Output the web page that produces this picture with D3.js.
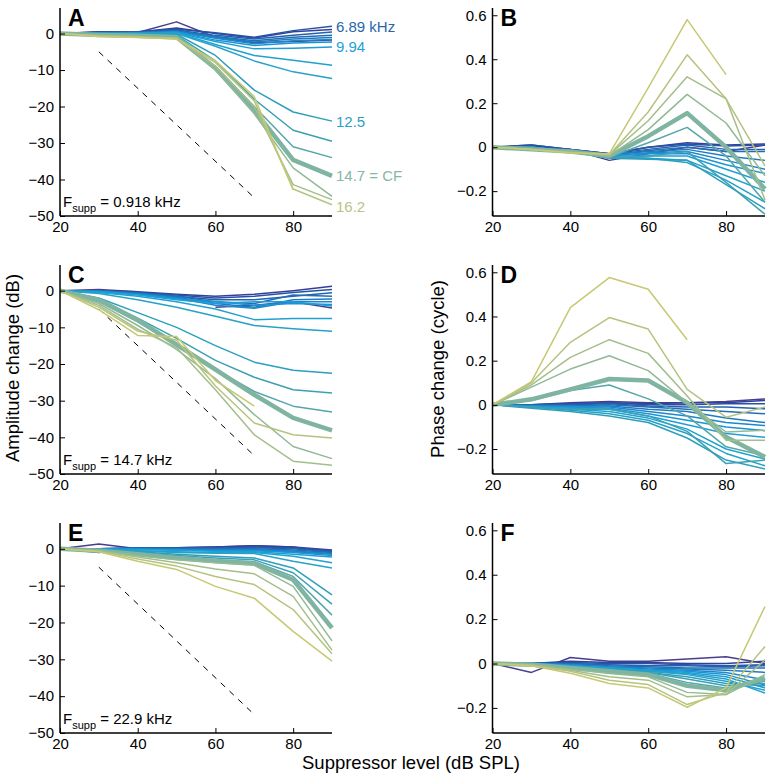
<!DOCTYPE html>
<html><head><meta charset="utf-8">
<script src="https://cdn.jsdelivr.net/npm/d3@7"></script>
<style>
body{margin:0;background:#fff;}
svg{display:block;font-family:"Liberation Sans",Arial,Helvetica,sans-serif;}
</style></head><body>
<svg id="c" width="767" height="778"></svg>
<script>
// ---- data ----
const levels = [20,30,40,50,60,70,80,90];
const xTicks = [20,40,60,80];
const ampTicks = [-50,-40,-30,-20,-10,0];
const phaseTicks = [-0.2,0,0.2,0.4,0.6];
const cfIndex = 14;
const colors = ["#4a3d8c","#33409a","#2753a6","#2461ae","#216eb7","#1e7bc1","#1c88cb","#1a94d3","#1c9ed8","#20a2d0","#26a1c7","#2c9fbd","#3ca0b3","#55a6ab","#7fb5a0","#91b996","#a4be8b","#b6c37f","#c6c873"];

const ampA = [
 [0,0.5,0.3,3.2,-1,-2.5,-2.2,-1.8],
 [0,0.3,0.4,1.5,0,-1.2,0.5,1.1],
 [0,0.4,0.5,1.2,0.2,-1,0.8,2.0],
 [0,0.3,0.3,1,-0.5,-1.5,-0.5,0.45],
 [0,0.2,0.3,0.8,-0.8,-2,-1,-0.45],
 [0,0.2,0.2,0.6,-1,-2.3,-1.5,-1.1],
 [0,0.1,0.2,0.5,-1.3,-2.8,-2,-1.6],
 [0,0.1,0.1,0.4,-1.8,-3.3,-2.6,-2.3],
 [0,0,0.1,0.3,-2.2,-4.2,-4,-3.7],
 [0,0,0,0.2,-3,-6,-7.3,-8.7],
 [0,0,0,0,-3.5,-7.5,-10.5,-12.3],
 [0,-0.1,-0.1,-0.2,-6,-15.5,-21.5,-24],
 [0,-0.2,-0.3,-0.5,-7.5,-18,-26.5,-29.5],
 [0,-0.3,-0.4,-0.8,-9,-20,-31,-34],
 [0,-0.4,-0.6,-1,-9.5,-21,-34.6,-39],
 [0,-0.5,-0.8,-1.2,-10,-22,-36.8,-44.6],
 [0,-0.6,-0.9,-1.3,-9,-20,-41.4,-45.5],
 [0,-0.7,-1,-1.4,-8,-18.5,-42.6,-46.9],
 [0,-0.8,-1.1,-1.5,-7.5,-17.3,-42.8,null]
];
const phaseB = [
 [0,0.005,-0.01,-0.06,-0.03,0.0,-0.02,0.01],
 [0,0.01,-0.01,-0.03,0,0.02,0.01,0.015],
 [0,0.01,-0.01,-0.03,0,0.015,0.005,0.01],
 [0,0,-0.01,-0.03,-0.01,0.01,-0.01,-0.01],
 [0,0,-0.015,-0.035,-0.015,0.0,-0.02,-0.02],
 [0,0,-0.015,-0.035,-0.02,-0.01,-0.04,-0.06],
 [0,0,-0.02,-0.04,-0.025,-0.02,-0.06,-0.1],
 [0,0,-0.02,-0.04,-0.03,-0.03,-0.08,-0.12],
 [0,0,-0.02,-0.04,-0.04,-0.04,-0.1,-0.16],
 [0,0,-0.02,-0.045,-0.05,-0.06,-0.13,-0.2],
 [0,0,-0.02,-0.045,-0.05,-0.07,-0.15,-0.25],
 [0,0,-0.02,-0.05,-0.055,-0.06,-0.17,-0.28],
 [0,0,-0.02,-0.05,-0.04,-0.02,-0.16,-0.305],
 [0,-0.005,-0.02,-0.045,0.02,0.09,-0.04,-0.25],
 [0,-0.01,-0.02,-0.04,0.05,0.155,0.0,-0.19],
 [0,-0.01,-0.02,-0.04,0.08,0.24,0.11,-0.13],
 [0,-0.01,-0.025,-0.035,0.12,0.32,0.22,-0.24],
 [0,-0.01,-0.025,-0.035,0.16,0.42,0.22,-0.085],
 [0,-0.01,-0.025,-0.03,0.27,0.58,0.33,null]
];
const ampC = [
 [0,0.3,-0.3,null,-4.5,-4,-3,-4.7],
 [0,0,-0.3,-1,-1.5,-1,0,1.2],
 [0,0,-0.5,-1.2,-2,-1.5,-0.5,0.3],
 [0,0,-0.5,-1.5,-2.5,-2.5,-1.5,-0.6],
 [0,0,-0.8,-1.5,-3,-3.5,-1.2,-1.5],
 [0,0,-0.8,-1.8,-3.5,-4.5,-2.5,-2.3],
 [0,-0.2,-1,-2,-4,-4.8,-3,-3],
 [0,-0.2,-1,-2.2,-3,-4,-3.5,-3.8],
 [0,-0.3,-1.2,-2.5,-3.5,-3,-3,-4.2],
 [0,-0.5,-1.5,-3,-5,-7.9,-7.6,-7.6],
 [0,-0.8,-2.5,-4.5,-7,-9.5,-10.4,-11.1],
 [0,-2,-6,-10,-15,-19.5,-21.7,-22.5],
 [0,-2.5,-7.5,-13,-19,-23.6,-27,-27.9],
 [0,-3,-8.5,-14.5,-21.5,-27.5,-31.5,-33.1],
 [0,-2.5,-8,-14.7,-21.5,-28.4,-34.7,-38.1],
 [0,-3.5,-9.5,-16,-24,-33.8,-42.5,-45.8],
 [0,-4,-10.5,-15.5,-27,-39.3,-46.5,-47.6],
 [0,-4.5,-11,-13.5,-26,-36.1,-39.3,-40.2],
 [0,-5.2,-12.2,-12.5,-24.5,-31.5,null,null]
];
const phaseD = [
 [0,0,0.01,0.015,0.01,0.01,0.015,0.027],
 [0,0,0.005,0.01,0.005,0.01,0.01,0.02],
 [0,0,0.005,0.01,0,0,0.005,0.005],
 [0,0,0,0.005,-0.005,-0.01,-0.01,-0.018],
 [0,-0.005,-0.005,0,-0.01,-0.02,-0.03,-0.04],
 [0,-0.005,-0.005,-0.005,-0.02,-0.03,-0.06,-0.08],
 [0,-0.005,-0.01,-0.01,-0.03,-0.05,-0.08,-0.094],
 [0,-0.005,-0.01,-0.015,-0.04,-0.07,-0.1,-0.117],
 [0,-0.01,-0.015,-0.02,-0.05,-0.09,-0.13,-0.147],
 [0,-0.01,-0.02,-0.03,-0.06,-0.11,-0.2,-0.245],
 [0,-0.01,-0.025,-0.04,-0.07,-0.13,-0.22,-0.276],
 [0,-0.015,-0.03,-0.05,-0.08,-0.15,-0.25,-0.29],
 [0,-0.01,-0.02,-0.02,-0.05,-0.12,-0.266,-0.25],
 [0,0.02,0.065,0.09,0.027,-0.05,-0.19,-0.23],
 [0,0.025,0.07,0.117,0.11,0.01,-0.146,-0.236],
 [0,0.08,0.162,0.222,0.155,0.01,-0.123,-0.115],
 [0,0.09,0.215,0.295,0.233,0.04,-0.16,-0.16],
 [0,0.1,0.283,0.395,0.343,0.07,-0.056,-0.01],
 [0,0.105,0.44,0.576,0.523,0.295,null,null]
];
const ampE = [
 [0,1.3,0,0.3,0.5,0.8,0.5,-1],
 [0,-1,0,0.3,0.5,0.8,0.5,-0.3],
 [0,0,0.3,0.3,0.3,0.5,0.3,-0.5],
 [0,0,0.2,0.2,0.2,0.3,0,-0.8],
 [0,0,0.1,0,0,0,-0.3,-1.0],
 [0,0,0,-0.1,-0.2,-0.2,-0.6,-1.3],
 [0,0,0,-0.2,-0.4,-0.4,-0.8,-1.5],
 [0,0,-0.1,-0.3,-0.5,-0.5,-1,-1.8],
 [0,0,-0.2,-0.4,-0.7,-0.8,-1.5,-2.2],
 [0,-0.2,-0.5,-0.8,-1,-1,-2,-3.8],
 [0,-0.2,-0.6,-1,-1.2,-1.3,-3.4,-5.2],
 [0,-0.3,-0.8,-1.5,-2,-2.5,-5.2,-12.5],
 [0,-0.3,-1,-1.8,-2.5,-3,-6.5,-15],
 [0,-0.4,-1.2,-2.2,-3,-3.5,-7.5,-18],
 [0,-0.5,-1.5,-2.5,-3.3,-4,-8.4,-21.5],
 [0,-0.5,-1.8,-3,-3.8,-4.5,-10.2,-25],
 [0,-0.6,-2.2,-3.8,-5.5,-6.8,-12.9,-27.5],
 [0,-0.7,-2.8,-4.7,-7.5,-9.7,-16.5,-28.5],
 [0,-0.8,-3.4,-5.6,-10.2,-13.4,-22.4,-30.5]
];
const phaseF = [
 [0,-0.04,0.027,0.01,0.01,0.02,0.03,0],
 [0,0,0.01,0.005,0.005,0,0,0.01],
 [0,0,0.005,0,0,-0.005,-0.01,-0.005],
 [0,0,0,-0.005,-0.01,-0.01,-0.015,-0.01],
 [0,0,0,-0.01,-0.015,-0.02,-0.02,-0.02],
 [0,0,-0.005,-0.015,-0.02,-0.025,-0.03,-0.04],
 [0,0,-0.005,-0.015,-0.025,-0.03,-0.04,-0.074],
 [0,0,-0.01,-0.02,-0.03,-0.035,-0.05,-0.097],
 [0,0,-0.01,-0.02,-0.03,-0.04,-0.06,-0.11],
 [0,0,-0.01,-0.02,-0.035,-0.045,-0.07,-0.133],
 [0,0,-0.01,-0.025,-0.035,-0.05,-0.08,-0.12],
 [0,0,-0.015,-0.025,-0.04,-0.06,-0.09,-0.1],
 [0,0,-0.015,-0.03,-0.04,-0.07,-0.1,-0.09],
 [0,-0.005,-0.02,-0.03,-0.045,-0.085,-0.11,-0.08],
 [0,-0.005,-0.02,-0.035,-0.05,-0.1,-0.12,-0.066],
 [0,-0.005,-0.025,-0.045,-0.06,-0.13,-0.14,-0.05],
 [0,-0.005,-0.03,-0.06,-0.075,-0.15,-0.14,0.017],
 [0,-0.01,-0.035,-0.075,-0.095,-0.185,-0.13,0.077],
 [0,-0.01,-0.044,-0.09,-0.11,-0.197,-0.11,0.257]
];
const dashRef = [[30,-5],[70,-45]];
const fsuppLabels = ["0.918","14.7","22.9"];
const freqLabels = [
 {text:"6.89 kHz", v:2.0, color:"#2766ad"},
 {text:"9.94", v:-3.7, color:"#1e9fd9"},
 {text:"12.5", v:-24, color:"#2aa0bf"},
 {text:"14.7 = CF", v:-39, color:"#84b8a3"},
 {text:"16.2", v:-47.3, color:"#b7c482"}
];

// ---- layout ----
const svg = d3.select("#c");
const rowTops = [8, 265, 523];
const rowBots = [216, 474, 733];
const colX = [[60, 332], [492.5, 765]];
const ampDomain = [-50, 7];
const phaseDomain = [-0.313, 0.633];
const fmt = d => d < 0 ? "\u2212" + Math.abs(d) : String(d);

const panels = [
 {data: ampA, kind: "amp", row: 0, col: 0, letter: "A"},
 {data: phaseB, kind: "phase", row: 0, col: 1, letter: "B"},
 {data: ampC, kind: "amp", row: 1, col: 0, letter: "C"},
 {data: phaseD, kind: "phase", row: 1, col: 1, letter: "D"},
 {data: ampE, kind: "amp", row: 2, col: 0, letter: "E"},
 {data: phaseF, kind: "phase", row: 2, col: 1, letter: "F"}
];

panels.forEach((p, pi) => {
  const x = d3.scaleLinear().domain([20, 90]).range(colX[p.col]);
  const y = d3.scaleLinear().domain(p.kind === "amp" ? ampDomain : phaseDomain)
              .range([rowBots[p.row], rowTops[p.row]]);
  const g = svg.append("g");
  const clipId = "clip" + pi;
  g.append("clipPath").attr("id", clipId).append("rect")
    .attr("x", colX[p.col][0]).attr("y", rowTops[p.row])
    .attr("width", colX[p.col][1] - colX[p.col][0] + 2)
    .attr("height", rowBots[p.row] - rowTops[p.row]);
  const plot = g.append("g").attr("clip-path", `url(#${clipId})`);

  if (p.kind === "amp") {
    plot.append("path")
      .attr("d", d3.line().x(d => x(d[0])).y(d => y(d[1]))(dashRef))
      .attr("stroke", "#000").attr("stroke-width", 1)
      .attr("stroke-dasharray", "6,6").attr("fill", "none");
  }

  const line = d3.line()
    .defined(d => d[1] !== null)
    .x(d => x(d[0])).y(d => y(d[1]));
  p.data.forEach((row, i) => {
    const pts = levels.map((l, k) => [l, row[k]]);
    plot.append("path")
      .attr("d", line(pts))
      .attr("fill", "none")
      .attr("stroke", colors[i])
      .attr("stroke-width", i === cfIndex ? 4.5 : 1.5)
      .attr("stroke-linejoin", "round");
  });

  // axes
  const ax = g.append("g").attr("transform", `translate(0,${rowBots[p.row]})`)
    .call(d3.axisBottom(x).tickValues(xTicks).tickFormat(d3.format("d"))
      .tickSizeInner(-5).tickSizeOuter(0).tickPadding(5));
  const ay = g.append("g").attr("transform", `translate(${colX[p.col][0]},0)`)
    .call(d3.axisLeft(y).tickValues(p.kind === "amp" ? ampTicks : phaseTicks)
      .tickFormat(p.kind === "amp" ? fmt : (d => d === 0 ? "0" : fmt(+d.toFixed(1))))
      .tickSizeInner(-5).tickSizeOuter(0).tickPadding(6));
  [ax, ay].forEach(a => {
    a.select(".domain").attr("stroke", "#000").attr("stroke-width", 1.5);
    a.selectAll(".tick line").attr("stroke", "#000").attr("stroke-width", 1);
    a.selectAll("text").attr("font-size", 15).attr("fill", "#000")
      .attr("font-family", "'Liberation Sans',Arial,sans-serif");
  });
  ax.select(".domain").attr("d", `M${colX[p.col][0]},0H${colX[p.col][1]}`);
  ay.select(".domain").attr("d", `M0,${rowBots[p.row]}V${rowTops[p.row]}`);

  // panel letter
  g.append("text").attr("x", colX[p.col][0] + 8).attr("y", rowTops[p.row] + 18)
    .attr("font-size", 23).attr("font-weight", "bold").attr("fill", "#000")
    .text(p.letter);

  if (p.kind === "amp") {
    const t = g.append("text").attr("x", colX[p.col][0] + 3).attr("y", rowBots[p.row] - 9)
      .attr("font-size", 15).attr("fill", "#000");
    t.append("tspan").text("F");
    t.append("tspan").attr("font-size", 11).attr("dy", 5).text("supp");
    t.append("tspan").attr("dy", -5).text(" = " + fsuppLabels[p.row] + " kHz");
  }

  if (pi === 0) {
    freqLabels.forEach(f => {
      g.append("text").attr("x", colX[0][1] + 4).attr("y", y(f.v))
        .attr("dy", "0.36em").attr("font-size", 15).attr("fill", f.color).text(f.text);
    });
  }
});

// axis titles
svg.append("text").attr("transform", "translate(19,368) rotate(-90)")
  .attr("text-anchor", "middle").attr("font-size", 18.5).attr("fill", "#000")
  .text("Amplitude change (dB)");
svg.append("text").attr("transform", "translate(444,369) rotate(-90)")
  .attr("text-anchor", "middle").attr("font-size", 18.5).attr("fill", "#000")
  .text("Phase change (cycle)");
svg.append("text").attr("x", 411).attr("y", 769)
  .attr("text-anchor", "middle").attr("font-size", 18.5).attr("fill", "#000")
  .text("Suppressor level (dB SPL)");
</script>
</body></html>
